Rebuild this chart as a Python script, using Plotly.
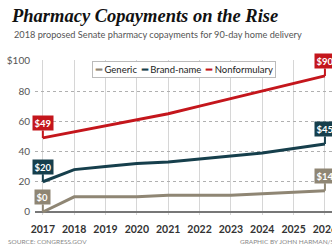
import plotly.graph_objects as go

years = [2017, 2018, 2019, 2020, 2021, 2022, 2023, 2024, 2025, 2026]
generic = [0, 10, 10, 10, 11, 11, 11, 12, 13, 14]
brand = [20, 28, 30, 32, 33, 35, 37, 39, 42, 45]
nonform = [49, 53, 57, 61, 65, 70, 75, 80, 85, 90]
series_names = ["Generic", "Brand-name", "Nonformulary"]
colors = ["#8f8674", "#163f4c", "#c4161c"]
ytickvals = [0, 20, 40, 60, 80, 100]
yticktext = ["0", "20", "40", "60", "80", "$100"]

# page is 332 px wide; figure is drawn wider so the right side is cropped like the original
W, H = 350, 246
ML, MR, MT, MB = 35, 0, 60, 31
PW, PH = W - ML - MR, H - MT - MB

def px_x(p):
    return (p - ML) / PW

def px_y(p):
    return (H - MB - p) / PH

fig = go.Figure()
for name, vals, col in zip(series_names, [generic, brand, nonform], colors):
    fig.add_trace(go.Scatter(x=years, y=vals, mode="lines", name=name,
                             line=dict(color=col, width=3), showlegend=False,
                             hoverinfo="skip"))

# callouts
for vals, col in zip([generic, brand, nonform], colors):
    for i in (0, len(years) - 1):
        fig.add_annotation(x=years[i], y=vals[i], text="$%d" % vals[i],
                           showarrow=True, ax=0, ay=-15, arrowhead=0,
                           arrowwidth=2, arrowcolor=col, bgcolor=col,
                           borderpad=1.5, standoff=0,
                           font=dict(family="Lato", size=9.5, color="white", weight="bold"))

# legend
leg = "  ".join("<span style='color:%s'><b>━</b></span> %s" % (c, n)
                for n, c in zip(series_names, colors))
fig.add_annotation(xref="paper", yref="paper", x=px_x(183.5), y=px_y(60.5),
                   text=leg, showarrow=False, bgcolor="white",
                   bordercolor="#bbbbbb", borderwidth=1, borderpad=2,
                   font=dict(family="Lato", size=9.5, color="#222222"))

# subtitle
fig.add_annotation(xref="paper", yref="paper", x=px_x(12), y=px_y(35),
                   xanchor="left", yanchor="middle", showarrow=False,
                   text="2018 proposed Senate pharmacy copayments for 90-day home delivery",
                   font=dict(family="Lato", size=9.2, color="#555555"))
# source / credit
fig.add_annotation(xref="paper", yref="paper", x=px_x(6), y=px_y(241),
                   xanchor="left", yanchor="middle", showarrow=False,
                   text="SOURCE: CONGRESS.GOV",
                   font=dict(family="Lato", size=6.5, color="#888888"))
fig.add_annotation(xref="paper", yref="paper", x=px_x(238), y=px_y(241),
                   xanchor="left", yanchor="middle", showarrow=False,
                   text="GRAPHIC BY JOHN HARMAN/STARS AND STRIPES",
                   font=dict(family="Lato", size=6.5, color="#888888"))

fig.update_layout(
    width=W, height=H,
    margin=dict(l=ML, r=MR, t=MT, b=MB),
    paper_bgcolor="white", plot_bgcolor="white",
    hovermode=False,
    title=dict(text="<b><i>Pharmacy Copayments on the Rise</i></b>",
               x=12 / W, xref="container", xanchor="left",
               y=1 - 16 / H, yref="container", yanchor="middle",
               font=dict(family="Liberation Serif", size=18.5, color="#111111")),
    xaxis=dict(range=[2016.75, 2026.8], tickvals=years, showgrid=True,
               gridcolor="#d6d6d6", gridwidth=1, zeroline=False, showline=False,
               ticks="", ticklabelstandoff=6,
               tickfont=dict(family="Lato", size=10.5, color="#333333", weight="bold")),
    yaxis=dict(range=[-2, 100.5], tickvals=ytickvals, ticktext=yticktext,
               showgrid=True, gridcolor="#b0b0b0", griddash="dot", gridwidth=1,
               zeroline=True, zerolinecolor="#777777", zerolinewidth=1.5,
               showline=False, ticks="", ticklabelstandoff=4,
               tickfont=dict(family="Lato", size=10, color="#555555")),
)

fig.write_html("out.html", config={"displayModeBar": False, "staticPlot": True},
               post_script="document.body.style.margin='0';document.body.style.overflow='hidden';")
